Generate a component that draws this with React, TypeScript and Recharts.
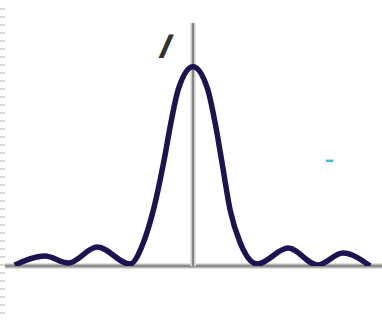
import { LineChart, Line, XAxis, YAxis, ReferenceLine } from 'recharts';

// position across the screen (arbitrary units, 0 = centre)
const positions = [
  -2.83, -2.35, -1.98, -1.52, -1.0, -0.79, -0.63, -0.46, -0.35, -0.23, 0,
  0.23, 0.35, 0.46, 0.59, 0.75, 1.02, 1.51, 1.98, 2.38, 2.81,
];
// relative intensity
const intensity = [
  0.005, 0.05, 0.015, 0.095, 0.01, 0.116, 0.28, 0.53, 0.72, 0.89, 1.0,
  0.89, 0.72, 0.52, 0.28, 0.116, 0.01, 0.09, 0.005, 0.065, 0.0,
];
const axisLabel = 'I';

const data = positions.map((x, i) => ({ x, i: intensity[i] }));

function LabelI(props: any) {
  const { viewBox } = props;
  const tx = viewBox.x - 32;
  const ty = viewBox.y + 35;
  return (
    <text
      transform={`translate(${tx},${ty}) skewX(-24)`}
      x={0}
      y={0}
      textAnchor="middle"
      fontFamily="Liberation Sans"
      fontWeight="bold"
      fontSize={34}
      fill="#303030"
    >
      {axisLabel}
    </text>
  );
}

export default function App() {
  return (
    <div style={{ position: 'fixed', top: 0, left: 0, width: 382, height: 320, background: '#fff' }}>
      <div
        style={{
          position: 'absolute',
          left: 0,
          top: 8,
          width: 5,
          height: 308,
          background: 'repeating-linear-gradient(to bottom, #d8d8d8 0 2px, transparent 2px 8px)',
        }}
      />
      <LineChart width={382} height={320} data={data} margin={{ top: 23, right: 0, bottom: 54, left: 5 }}>
        <XAxis dataKey="x" type="number" domain={[-2.984, 3]} allowDataOverflow hide />
        <YAxis type="number" domain={[0, 1.22]} allowDataOverflow hide />
        <ReferenceLine y={0} stroke="#c4c4c4" strokeWidth={5} />
        <ReferenceLine y={0} stroke="#8c8c8c" strokeWidth={2.5} />
        <ReferenceLine x={0} stroke="#e2e2e2" strokeWidth={6} />
        <ReferenceLine x={0} stroke="#858585" strokeWidth={2.5} label={<LabelI />} />
        <ReferenceLine
          segment={[{ x: 2.11, y: 0.528 }, { x: 2.23, y: 0.528 }]}
          stroke="#4bb8e2"
          strokeWidth={2.5}
        />
        <Line
          dataKey="i"
          type="monotone"
          stroke="#1b1450"
          strokeWidth={5.5}
          dot={false}
          isAnimationActive={false}
        />
      </LineChart>
    </div>
  );
}
